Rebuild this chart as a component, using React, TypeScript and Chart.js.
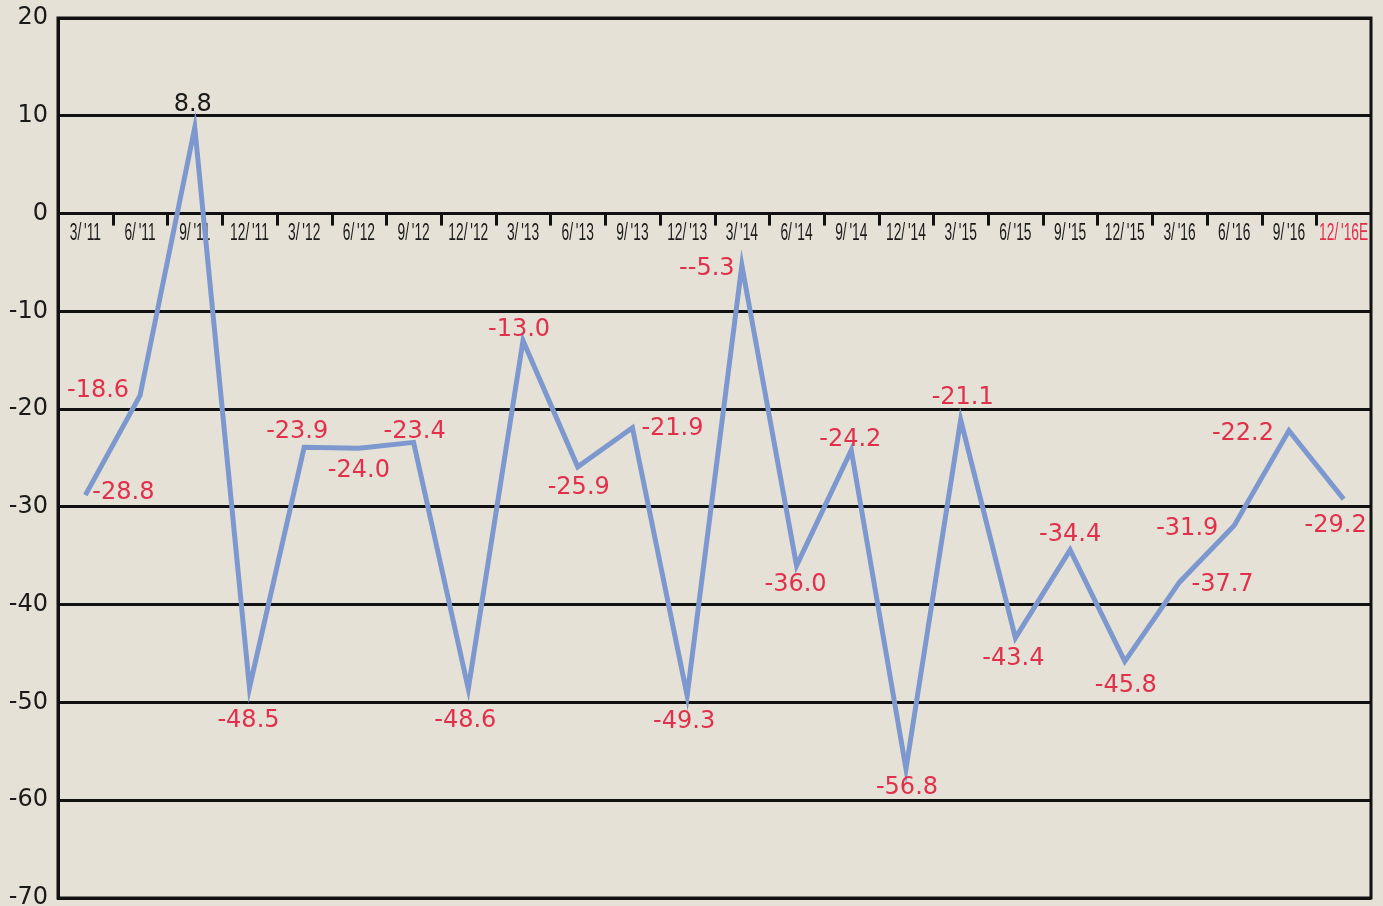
import React, { useEffect, useRef } from "react";
import { Chart, registerables } from "chart.js";

Chart.register(...registerables);

const categories = [
  "3/'11", "6/'11", "9/'11", "12/'11",
  "3/'12", "6/'12", "9/'12", "12/'12",
  "3/'13", "6/'13", "9/'13", "12/'13",
  "3/'14", "6/'14", "9/'14", "12/'14",
  "3/'15", "6/'15", "9/'15", "12/'15",
  "3/'16", "6/'16", "9/'16", "12/'16E",
];

const values = [
  -28.8, -18.6, 8.8, -48.5,
  -23.9, -24.0, -23.4, -48.6,
  -13.0, -25.9, -21.9, -49.3,
  -5.3, -36.0, -24.2, -56.8,
  -21.1, -43.4, -34.4, -45.8,
  -37.7, -31.9, -22.2, -29.2,
];

// label texts as printed in the source
const valueLabels = [
  "-28.8", "-18.6", "8.8", "-48.5",
  "-23.9", "-24.0", "-23.4", "-48.6",
  "-13.0", "-25.9", "-21.9", "-49.3",
  "--5.3", "-36.0", "-24.2", "-56.8",
  "-21.1", "-43.4", "-34.4", "-45.8",
  "-37.7", "-31.9", "-22.2", "-29.2",
];

const yTicks = [20, 10, 0, -10, -20, -30, -40, -50, -60, -70];

// label placement (offset of label centre from its point, px) — styling only
const labelOffsets: [number, number][] = [
  [38, -5], [-42, -8], [-2, -26], [-1, 30],
  [-7, -18], [0, 20], [1, -14], [-3, 29],
  [-4, -14], [1, 18], [40, -2], [-3, 23],
  [-35, 0], [-1, 16], [-1, -13], [1, 16],
  [2, -25], [-2, 18], [0, -18], [1, 21],
  [43, 0], [-47, 0], [-46, 0], [-8, 24],
];

const BG = "#e6e1d6";
const RED = "#e1304c";
const LINE = "#7d98cf";
const NUM_FONT = "'DejaVu Sans', sans-serif";

const overlayPlugin = {
  id: "overlay",
  beforeDatasetsDraw(chart: any) {
    const { ctx, chartArea } = chart;
    const xs = chart.scales.x;
    const ys = chart.scales.y;
    const y0 = ys.getPixelForValue(0);
    ctx.save();
    // frame
    ctx.strokeStyle = "#111";
    ctx.lineWidth = 3;
    ctx.strokeRect(chartArea.left, chartArea.top, chartArea.right - chartArea.left, chartArea.bottom - chartArea.top);
    // tick marks at category boundaries
    const n = categories.length;
    const w = (chartArea.right - chartArea.left) / n;
    ctx.lineWidth = 3;
    for (let k = 1; k < n; k++) {
      const x = Math.round(chartArea.left + w * k) + 0.5;
      ctx.beginPath();
      ctx.moveTo(x, y0);
      ctx.lineTo(x, y0 + 12);
      ctx.stroke();
    }
    // category labels
    ctx.textAlign = "center";
    ctx.textBaseline = "middle";
    for (let i = 0; i < n; i++) {
      const cx = xs.getPixelForValue(i);
      ctx.save();
      ctx.translate(cx, y0 + 20);
      ctx.scale(0.6, 1);
      ctx.font = "23px 'Liberation Sans', sans-serif";
      ctx.fillStyle = i === n - 1 ? RED : "#1a1a1a";
      ctx.fillText(categories[i].replace("/", "/\u2009"), 0, 0);
      ctx.restore();
    }
    ctx.restore();
  },
  afterDatasetsDraw(chart: any) {
    const { ctx } = chart;
    const meta = chart.getDatasetMeta(0);
    ctx.save();
    ctx.textAlign = "center";
    ctx.textBaseline = "middle";
    ctx.font = `24px ${NUM_FONT}`;
    meta.data.forEach((pt: any, i: number) => {
      const [dx, dy] = labelOffsets[i];
      ctx.fillStyle = values[i] > 0 ? "#1a1a1a" : RED;
      ctx.fillText(valueLabels[i], pt.x + dx, pt.y + dy + 3);
    });
    ctx.restore();
  },
};

export default function App() {
  const canvasRef = useRef<HTMLCanvasElement | null>(null);

  useEffect(() => {
    document.body.style.margin = "0";
    document.body.style.background = BG;
    const canvas = canvasRef.current;
    if (!canvas) return;
    const chart = new Chart(canvas, {
      type: "line",
      data: {
        labels: categories,
        datasets: [
          {
            data: values,
            borderColor: LINE,
            borderWidth: 5,
            borderJoinStyle: "miter",
            pointRadius: 0,
            tension: 0,
            fill: false,
          },
        ],
      },
      options: {
        animation: false,
        responsive: false,
        maintainAspectRatio: false,
        layout: { padding: { top: 18, right: 12, bottom: 8, left: 0 } },
        plugins: {
          legend: { display: false },
          tooltip: { enabled: false },
        },
        scales: {
          x: {
            type: "category",
            offset: true,
            display: false,
            grid: { display: false },
          },
          y: {
            min: -70,
            max: 20,
            afterFit(scale: any) {
              scale.width = 58;
              scale.paddingTop = 0;
              scale.paddingBottom = 0;
            },
            afterBuildTicks(scale: any) {
              scale.ticks = yTicks.map((v) => ({ value: v }));
            },
            border: { display: true, color: "#111", width: 3 },
            grid: {
              color: "#111",
              lineWidth: 3,
              drawTicks: false,
            },
            ticks: {
              color: "#1a1a1a",
              padding: 10,
              font: { family: NUM_FONT, size: 24 },
              callback: (v: any) => String(v),
            },
          },
        },
      },
      plugins: [overlayPlugin],
    });
    return () => chart.destroy();
  }, []);

  return (
    <div style={{ position: "fixed", left: 0, top: 0, width: 1383, height: 906, background: BG }}>
      <canvas ref={canvasRef} width={1383} height={906} style={{ display: "block" }} />
    </div>
  );
}
